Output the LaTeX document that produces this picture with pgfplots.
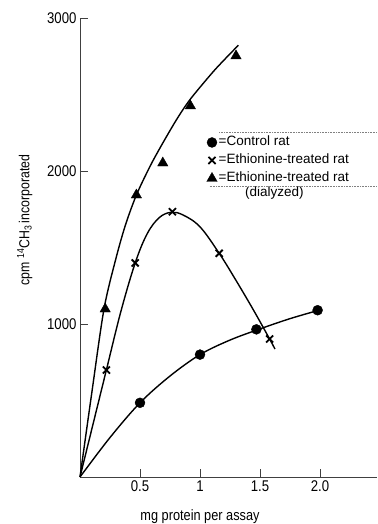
\documentclass[border=0pt]{standalone}
\usepackage{pgfplots}
\pgfplotsset{compat=1.18}
\usepackage{fontspec}
\setmainfont{Liberation Sans}
\newfontfamily\condfont{Liberation Sans}[FakeStretch=0.85]
\begin{document}
\begin{tikzpicture}
\useasboundingbox (-80pt,-47pt) rectangle (297pt,477pt);
\begin{axis}[
  at={(0pt,0pt)}, anchor=south west,
  scale only axis, width=297pt, height=459pt,
  xmin=0, xmax=2.475, ymin=0, ymax=3000,
  axis x line=bottom, axis y line=left,
  axis line style={-, black!75, line width=0.6pt},
  xtick={0.5,1,1.5,2}, xticklabels={0.5,1,1.5,2.0},
  ytick={1000,2000,3000}, yticklabels={1000,2000,3000},
  tick align=inside, major tick length=8pt,
  tick style={black!75, line width=0.6pt},
  ticklabel style={font=\condfont\fontsize{15.5}{17}\selectfont},
  clip=false,
  legend style={at={(axis cs:1.055,2240)}, anchor=north west, draw=none, fill=none,
    inner sep=0pt, row sep=2pt, font=\fontsize{13.5}{15}\selectfont,
    nodes={inner sep=1.5pt, text height=10pt, text depth=3pt}},
  legend cell align=left,
  legend image code/.code={\draw[#1] plot coordinates {(5pt,0pt)};},
]
% fitted curves
\addplot[black, line width=1.4pt, smooth, tension=0.55, forget plot] coordinates {
 (0,0) (0.25,258) (0.5,485) (0.75,660) (1.0,800) (1.25,895) (1.5,968) (1.75,1035) (2.0,1092)};
\addplot[black, line width=1.4pt, smooth, tension=0.6, forget plot] coordinates {
 (0,0) (0.11,350) (0.22,700) (0.34,1080) (0.46,1399) (0.56,1590) (0.66,1695) (0.76,1730) (0.86,1712) (1.0,1635) (1.16,1462) (1.3,1285) (1.45,1085) (1.58,902) (1.625,836)};
\addplot[black, line width=1.4pt, smooth, tension=0.5, forget plot] coordinates {
 (0,0) (0.1,560) (0.2,1098) (0.3,1430) (0.38,1650) (0.47,1843) (0.58,2025) (0.667,2151) (0.8,2330) (0.917,2467) (1.1,2640) (1.2,2725) (1.32,2822)};
% data points
\addplot[only marks, mark=*, mark size=5pt, black] coordinates {
 (0.5,485) (1.0,800) (1.47,965) (1.98,1090)};
\addlegendentry{=Control rat}
\addplot[only marks, mark=x, mark size=5pt, black, line width=1.8pt] coordinates {
 (0.22,699) (0.46,1399) (0.77,1734) (1.16,1462) (1.58,902)};
\addlegendentry{=Ethionine-treated rat}
\addplot[only marks, mark=triangle*, mark size=6pt, black] coordinates {
 (0.21,1098) (0.47,1843) (0.69,2052) (0.92,2425) (1.30,2752)};
\addlegendentry{=Ethionine-treated rat}
\node[anchor=west, font=\fontsize{13.5}{15}\selectfont, inner sep=0pt] at (axis cs:1.375,1855) {(dialyzed)};
\draw[black!50, densely dotted, line width=0.6pt] (axis cs:1.16,2250) -- (axis cs:2.475,2250);
\draw[black!50, densely dotted, line width=0.6pt] (axis cs:1.08,1900) -- (axis cs:2.475,1900);
\node[rotate=90, font=\condfont\fontsize{14.5}{16}\selectfont] at (axis cs:-0.46,1680) {cpm \textsuperscript{14}CH\textsubscript{3}\,incorporated};
\node[font=\condfont\fontsize{15}{17}\selectfont] at (axis cs:1.0,-262) {mg protein per assay};
\end{axis}
\end{tikzpicture}
\end{document}
